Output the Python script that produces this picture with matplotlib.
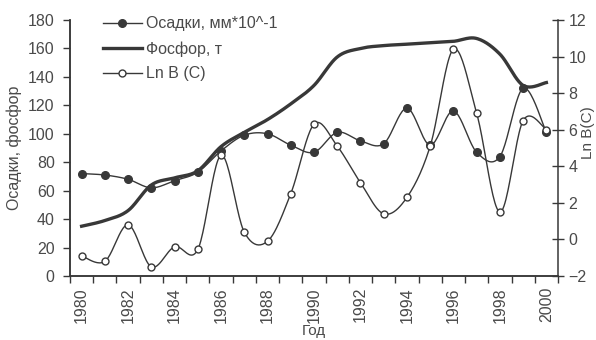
import numpy as np
import matplotlib
matplotlib.use("Agg")
import matplotlib.pyplot as plt
from matplotlib.ticker import MultipleLocator
from matplotlib.lines import Line2D

plt.rcParams['font.family'] = ['Liberation Sans', 'DejaVu Sans']

years = list(range(1980, 2001))
# осадки, мм*10^-1 (левая ось)
osadki = [72, 71, 68, 62, 67, 73, 88, 99, 100, 92, 87, 101, 95, 93, 118, 92, 116, 87, 84, 132, 101]
# фосфор, т (левая ось)
fosfor = [35, 39, 46, 64, 69, 74, 91, 101, 110, 121, 134, 154, 160, 162, 163, 164, 165, 167, 156, 134, 136]
# Ln B (C) (правая ось)
ln_b = [-0.9, -1.2, 0.8, -1.5, -0.4, -0.55, 4.6, 0.4, -0.1, 2.5, 6.3, 5.1, 3.1, 1.4, 2.3, 5.1, 10.4, 6.9, 1.5, 6.5, 6.0]

ink = '#383838'
txt = '#4a4a4a'


def smooth(x, y, n=24):
    # сглаженная линия (Catmull-Rom), как в Excel
    x = np.asarray(x, float)
    y = np.asarray(y, float)
    px = np.concatenate([[x[0]], x, [x[-1]]])
    py = np.concatenate([[y[0]], y, [y[-1]]])
    xs, ys = [], []
    t = np.linspace(0, 1, n)
    for i in range(len(x) - 1):
        for arr, out in ((px, xs), (py, ys)):
            p0, p1, p2, p3 = arr[i:i + 4]
            seg = 0.5 * (2 * p1 + (-p0 + p2) * t + (2 * p0 - 5 * p1 + 4 * p2 - p3) * t ** 2
                         + (-p0 + 3 * p1 - 3 * p2 + p3) * t ** 3)
            out.extend(seg if i == 0 else seg[1:])
    return np.array(xs), np.array(ys)


fig = plt.figure(figsize=(5.96, 3.4), dpi=100, facecolor='white')
ax = fig.add_axes([70 / 596, 1 - 276 / 340, 488 / 596, 256 / 340])
ax2 = ax.twinx()

sx, sy = smooth(years, osadki)
ax.plot(sx, sy, color=ink, lw=1.0)
ax.plot(years, osadki, 'o', ms=5.5, mfc=ink, mec=ink)
sx, sy = smooth(years, fosfor)
h2, = ax.plot(sx, sy, color=ink, lw=2.4)

sx, sy = smooth(years, ln_b)
ax2.plot(sx, sy, color=ink, lw=1.0)
ax2.plot(years, ln_b, 'o', ms=5, mfc='white', mec=ink, mew=1.0)

# легенда: линия с маркером
lh1 = Line2D([], [], color=ink, lw=1.0, marker='o', ms=5.5, mfc=ink, mec=ink)
lh3 = Line2D([], [], color=ink, lw=1.0, marker='o', ms=5, mfc='white', mec=ink)
leg = ax2.legend([lh1, h2, lh3], ['Осадки, мм*10^-1', 'Фосфор, т', 'Ln B (C)'],
                 loc='upper left', bbox_to_anchor=(0.055, 1.04), frameon=False,
                 borderaxespad=0, handlelength=2.4, handletextpad=0.3,
                 labelspacing=0.62, fontsize=11.5)
for t in leg.get_texts():
    t.set_color(txt)

ax.set_xlim(1979.5, 2000.5)
ax.set_ylim(0, 180)
ax2.set_ylim(-2, 12)

ax.set_xticks(range(1980, 2001, 2))
ax.set_xticklabels([str(y) for y in range(1980, 2001, 2)], rotation=90)
ax.set_xticks(np.arange(1979.5, 2001, 1), minor=True)
ax.tick_params(axis='x', which='major', length=0, pad=8, labelsize=11.5, labelcolor=txt)
ax.tick_params(axis='x', which='minor', length=5, width=1, color=ink, direction='out')
ax.yaxis.set_major_locator(MultipleLocator(20))
ax.tick_params(axis='y', length=5, width=1, color=ink, direction='out', pad=6,
               labelsize=11.5, labelcolor=txt)
ax2.yaxis.set_major_locator(MultipleLocator(2))
ax2.tick_params(axis='y', length=9, width=1, color=ink, direction='inout', pad=3,
                labelsize=11.5, labelcolor=txt)

for a in (ax, ax2):
    a.spines['top'].set_visible(False)
    for s in ('left', 'right', 'bottom'):
        a.spines[s].set_color(ink)
        a.spines[s].set_linewidth(1.1)
ax.spines['right'].set_visible(False)

ax.set_ylabel('Осадки, фосфор', fontsize=11.5, color=txt, labelpad=4)
ax2.set_ylabel('Ln B(C)', fontsize=11, color=txt)
ax2.yaxis.set_label_coords(1.047, 0.56)
ax.set_xlabel('Год', fontsize=11, color=txt, labelpad=1)

fig.savefig('out.png', dpi=100, facecolor='white')
